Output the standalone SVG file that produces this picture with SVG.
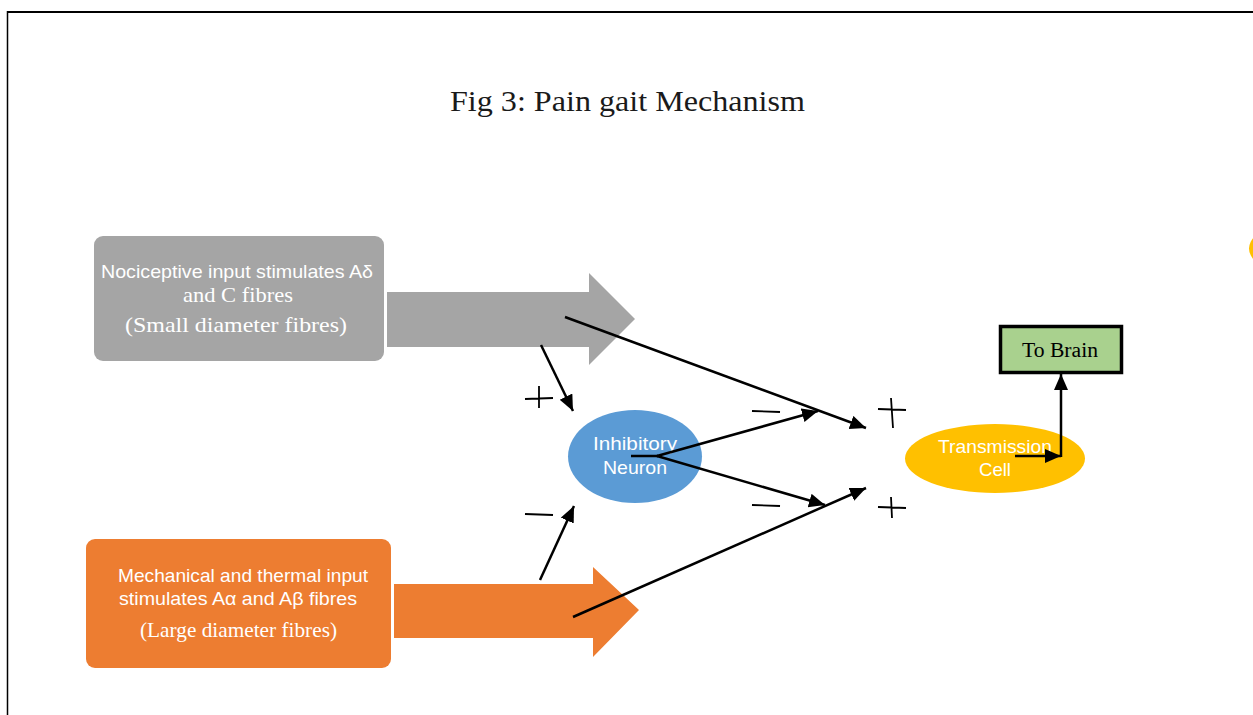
<svg xmlns="http://www.w3.org/2000/svg" width="1253" height="715" viewBox="0 0 1253 715">
<style>
.sans{font-family:"Liberation Sans",Arial,sans-serif;fill:#ffffff}
.serif{font-family:"Liberation Serif","Times New Roman",serif}
.conn{stroke:#000;stroke-width:2.5;fill:none}
.sign{stroke:#000;stroke-width:1.8;fill:none}
</style>
<defs>
<marker id="ah" markerUnits="userSpaceOnUse" markerWidth="18" markerHeight="16" refX="16" refY="7" orient="auto">
<path d="M0,0 L16,7 L0,14 z" fill="#000"/>
</marker>
</defs>
<rect x="0" y="0" width="1253" height="715" fill="#fff"/>
<g id="frame">
<line x1="7.5" y1="11" x2="7.5" y2="715" stroke="#000" stroke-width="1.5"/>
<line x1="7" y1="12" x2="1253" y2="12" stroke="#000" stroke-width="2"/>
</g>
<g id="title">
<text class="serif" x="627.5" y="111" font-size="29" text-anchor="middle" fill="#1a1a1a" textLength="355" lengthAdjust="spacingAndGlyphs">Fig 3: Pain gait Mechanism</text>
</g>
<g id="nociceptive">
<path d="M387,292 H589 V273 L635,319 L589,365 V347 H387 Z" fill="#a5a5a5"/>
<rect x="94" y="236" width="290" height="125" rx="9" fill="#a5a5a5"/>
<text class="sans" x="237" y="278" font-size="19" text-anchor="middle" textLength="272" lengthAdjust="spacingAndGlyphs">Nociceptive input stimulates Aδ</text>
<text class="serif" x="238" y="302" font-size="21" text-anchor="middle" fill="#fff" textLength="110" lengthAdjust="spacingAndGlyphs">and C fibres</text>
<text class="serif" x="236" y="332" font-size="22" text-anchor="middle" fill="#fff" textLength="222" lengthAdjust="spacingAndGlyphs">(Small diameter fibres)</text>
</g>
<g id="mechanical">
<path d="M394,584 H593 V567 L639,610 L593,657 V638 H394 Z" fill="#ed7d31"/>
<rect x="86" y="539" width="305" height="129" rx="9" fill="#ed7d31"/>
<text class="sans" x="243" y="582" font-size="19" text-anchor="middle" textLength="250" lengthAdjust="spacingAndGlyphs">Mechanical and thermal input</text>
<text class="sans" x="238" y="605" font-size="19" text-anchor="middle" textLength="238" lengthAdjust="spacingAndGlyphs">stimulates Aα and Aβ fibres</text>
<text class="serif" x="238.5" y="637" font-size="21" text-anchor="middle" fill="#fff" textLength="197" lengthAdjust="spacingAndGlyphs">(Large diameter fibres)</text>
</g>
<g id="inhibitory">
<ellipse cx="635" cy="456.5" rx="67" ry="46.5" fill="#5b9bd5"/>
<text class="sans" x="635" y="450" font-size="19" text-anchor="middle" textLength="84" lengthAdjust="spacingAndGlyphs">Inhibitory</text>
<text class="sans" x="635" y="474" font-size="19" text-anchor="middle" textLength="64" lengthAdjust="spacingAndGlyphs">Neuron</text>
</g>
<g id="transmission">
<ellipse cx="995" cy="458.5" rx="90" ry="34.5" fill="#ffc000"/>
<text class="sans" x="995" y="453" font-size="19" text-anchor="middle" textLength="114" lengthAdjust="spacingAndGlyphs">Transmission</text>
<text class="sans" x="995" y="476" font-size="19" text-anchor="middle" textLength="32" lengthAdjust="spacingAndGlyphs">Cell</text>
</g>
<g id="brain">
<rect x="1000.5" y="326.5" width="121" height="46" fill="#a9d18e" stroke="#000" stroke-width="3.5"/>
<text class="serif" x="1060" y="357" font-size="20" text-anchor="middle" fill="#000" textLength="76" lengthAdjust="spacingAndGlyphs">To Brain</text>
</g>
<g id="offpage">
<ellipse cx="1339" cy="248.5" rx="90" ry="35" fill="#ffc000"/>
</g>
<g id="connectors">
<line class="conn" x1="565" y1="317" x2="866" y2="428" marker-end="url(#ah)"/>
<line class="conn" x1="541" y1="345" x2="573" y2="411" marker-end="url(#ah)"/>
<line class="conn" x1="540" y1="580" x2="574" y2="506" marker-end="url(#ah)"/>
<line class="conn" x1="573" y1="617" x2="866" y2="488" marker-end="url(#ah)"/>
<line class="conn" x1="631" y1="456" x2="658" y2="456"/>
<line class="conn" x1="657" y1="456" x2="818" y2="411" marker-end="url(#ah)"/>
<line class="conn" x1="657" y1="456" x2="825" y2="505" marker-end="url(#ah)"/>
<line class="conn" x1="1015" y1="456" x2="1061" y2="456" marker-end="url(#ah)"/>
<line class="conn" x1="1061" y1="457" x2="1061" y2="374" marker-end="url(#ah)"/>
</g>
<g id="signs">
<path class="sign" d="M525,399 L553,398 M539,386 L539,408"/>
<path class="sign" d="M525,514 L553,515"/>
<path class="sign" d="M752,411 L780,412"/>
<path class="sign" d="M752,505 L780,506"/>
<path class="sign" d="M878,409 L906,410 M891,398 L893,428"/>
<path class="sign" d="M878,507 L906,508 M891,497 L892,518"/>
</g>
</svg>
